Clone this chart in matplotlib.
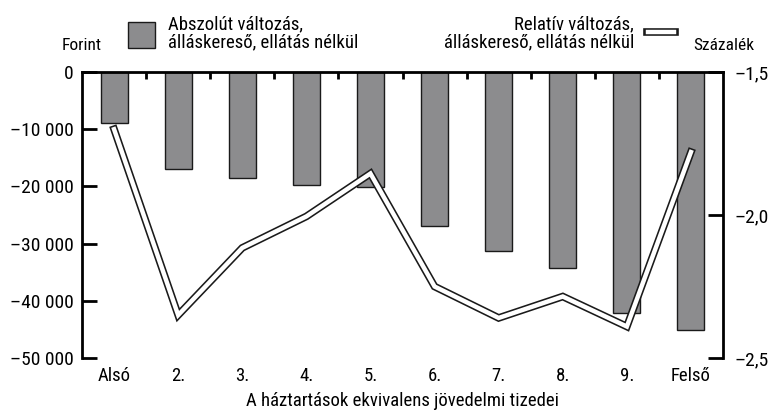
import matplotlib.pyplot as plt
from matplotlib.patches import Rectangle
from matplotlib.lines import Line2D
from matplotlib import font_manager

# pick a condensed sans if one is installed
installed = {f.name for f in font_manager.fontManager.ttflist}
narrow = [n for n in ['Roboto Condensed', 'Fira Sans Condensed', 'Archivo Narrow', 'PT Sans Narrow',
                      'IBM Plex Sans Condensed', 'Liberation Sans Narrow', 'Barlow Semi Condensed']
          if n in installed]
plt.rcParams['font.family'] = narrow[:1] + ['DejaVu Sans']

categories = ['Alsó', '2.', '3.', '4.', '5.', '6.', '7.', '8.', '9.', 'Felső']
abs_change = [-9000, -17000, -18500, -19800, -20100, -26900, -31300, -34300, -42100, -45100]
rel_change = [-1.70, -2.35, -2.115, -2.005, -1.855, -2.25, -2.36, -2.285, -2.39, -1.78]

left_ticks = [0, -10000, -20000, -30000, -40000, -50000]
left_labels = ['0', '–10 000', '–20 000', '–30 000', '–40 000', '–50 000']
right_ticks = [-1.5, -2.0, -2.5]
right_labels = ['–1,5', '–2,0', '–2,5']

fig = plt.figure(figsize=(7.71, 4.12), dpi=100)
ax = fig.add_axes([82 / 771, 1 - 358 / 412, (723 - 82) / 771, (358 - 72) / 412])
x = list(range(len(categories)))

ax.bar(x, abs_change, width=0.42, color='#8c8c8e', edgecolor='#1a1a1a', linewidth=1.0, zorder=2)
ax.set_xlim(-0.5, len(categories) - 0.5)
ax.set_ylim(-50000, 0)

ax.spines['bottom'].set_visible(False)
ax.spines['top'].set_linewidth(2)
ax.spines['left'].set_linewidth(2)
ax.spines['right'].set_visible(False)

ax.set_yticks(left_ticks)
ax.set_yticklabels(left_labels, fontsize=14)
ax.tick_params(axis='y', direction='in', length=11, width=2, pad=6)

# category labels below the plot, boundary ticks hanging from the zero line
ax.set_xticks([i + 0.5 for i in x[:-1]])
ax.set_xticklabels([])
ax.tick_params(axis='x', direction='in', length=5, width=2, bottom=False, top=True)
for i, c in zip(x, categories):
    ax.text(i, -51600, c, ha='center', va='top', fontsize=13.5)
ax.text(4.5, -56000, 'A háztartások ekvivalens jövedelmi tizedei', ha='center', va='top', fontsize=13.5)

ax2 = ax.twinx()
ax2.set_ylim(-2.5, -1.5)
for s in ['top', 'bottom', 'left']:
    ax2.spines[s].set_visible(False)
ax2.spines['right'].set_linewidth(2)
ax2.set_yticks(right_ticks)
ax2.set_yticklabels(right_labels, fontsize=14)
ax2.tick_params(axis='y', direction='in', length=11, width=2, pad=8)

# double line: black outline with white core
ax2.plot(x, rel_change, color='#1a1a1a', linewidth=5.5, solid_joinstyle='miter', zorder=3)
ax2.plot(x, rel_change, color='white', linewidth=3.2, solid_joinstyle='miter', zorder=4)

# legend and unit labels
fig.text(62 / 771, 1 - 46 / 412, 'Forint', fontsize=12.5, va='center', ha='left')
fig.text(693 / 771, 1 - 46 / 412, 'Százalék', fontsize=12.5, va='center', ha='left')
fig.patches.append(Rectangle((128 / 771, 1 - 48 / 412), 27 / 771, 26 / 412,
                             transform=fig.transFigure, facecolor='#8c8c8e',
                             edgecolor='#1a1a1a', linewidth=1.0))
fig.text(168 / 771, 1 - 33 / 412, 'Abszolút változás,\nálláskereső, ellátás nélkül',
         fontsize=13.5, va='center', ha='left', linespacing=1.0)
fig.text(634 / 771, 1 - 33 / 412, 'Relatív változás,\nálláskereső, ellátás nélkül',
         fontsize=13.5, va='center', ha='right', linespacing=1.0)
fig.lines.append(Line2D([647 / 771, 675 / 771], [1 - 32 / 412] * 2, transform=fig.transFigure,
                        color='#1a1a1a', linewidth=5.5))
fig.lines.append(Line2D([648 / 771, 674 / 771], [1 - 32 / 412] * 2, transform=fig.transFigure,
                        color='white', linewidth=3.2))

fig.savefig('out.png', dpi=100)
